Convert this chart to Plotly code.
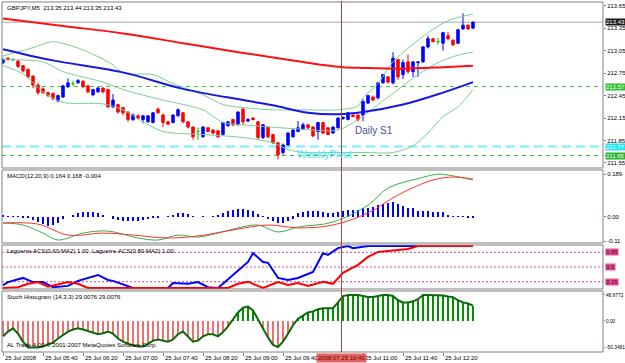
import plotly.graph_objects as go

# ---------------- data ----------------
bars = list(range(95))
opens = [212.89,212.95,212.93,212.91,212.85,212.80,212.71,212.59,212.54,212.49,
         212.48,212.38,212.43,212.57,212.61,212.62,212.64,212.58,212.46,212.50,
         212.55,212.53,212.30,212.33,212.29,212.23,212.13,212.18,212.13,212.10,
         212.09,212.27,212.19,212.10,212.09,212.18,212.22,212.10,212.03,211.97,
         211.90,212.02,211.99,211.98,211.93,212.05,212.13,212.06,212.27,212.11,
         212.15,212.10,211.89,212.03,211.93,211.82,211.69,211.79,211.90,211.97,
         212.00,212.06,212.03,211.97,212.09,212.02,211.95,212.02,212.14,212.13,
         212.19,212.19,212.19,212.35,212.43,212.42,212.62,212.70,212.62,212.93,
         212.73,212.90,212.77,212.89,212.90,213.10,213.21,213.17,213.15,213.25,
         213.19,213.15,213.34,213.39,213.35]
highs = [212.95,212.96,212.95,212.93,212.86,212.81,212.72,212.62,212.56,212.50,
         212.49,212.46,212.59,212.68,212.65,212.67,212.66,212.59,212.54,212.57,
         212.56,212.54,212.47,212.34,212.30,212.24,212.21,212.20,212.19,212.19,
         212.23,212.29,212.21,212.11,212.20,212.28,212.23,212.11,212.04,212.02,
         212.04,212.03,212.00,211.99,212.10,212.11,212.14,212.24,212.28,212.15,
         212.16,212.11,212.07,212.04,211.94,211.83,211.81,211.96,212.00,212.11,
         212.09,212.07,212.04,212.10,212.10,212.03,212.04,212.16,212.17,212.23,
         212.20,212.20,212.40,212.46,212.45,212.63,212.74,212.71,213.03,212.94,
         212.93,213.00,212.91,212.91,213.11,213.25,213.22,213.22,213.30,213.30,
         213.20,213.34,213.55,213.40,213.44]
lows = [212.87,212.92,212.91,212.82,212.76,212.68,212.55,212.46,212.47,212.43,
        212.39,212.36,212.42,212.55,212.58,212.61,212.55,212.48,212.44,212.49,
        212.48,212.28,212.28,212.21,212.19,212.10,212.11,212.13,212.08,212.09,
        212.08,212.21,212.03,212.05,212.08,212.17,212.08,212.01,211.86,211.86,
        211.89,211.96,211.93,211.89,211.92,212.03,212.04,212.05,212.06,212.10,
        212.12,211.87,211.87,211.88,211.80,211.60,211.66,211.78,211.89,211.96,
        211.99,212.00,211.90,211.86,211.94,211.92,211.94,212.01,212.13,212.12,
        212.16,212.10,212.11,212.34,212.38,212.40,212.61,212.61,212.60,212.66,
        212.67,212.74,212.70,212.70,212.89,213.08,213.16,213.13,213.05,213.19,
        213.11,213.14,213.33,213.33,213.35]
closes = [212.93,212.93,212.93,212.84,212.78,212.70,212.59,212.49,212.49,212.45,
          212.41,212.45,212.58,212.62,212.61,212.65,212.57,212.50,212.53,212.55,
          212.50,212.30,212.39,212.23,212.22,212.13,212.19,212.15,212.18,212.18,
          212.22,212.22,212.09,212.07,212.19,212.26,212.10,212.03,211.90,211.97,
          212.03,211.97,211.95,211.90,212.09,212.10,212.06,212.23,212.10,212.13,
          212.13,211.89,212.06,211.90,211.82,211.66,211.79,211.95,211.99,212.02,
          212.06,212.02,211.91,212.09,211.95,211.93,212.03,212.15,212.16,212.22,
          212.17,212.13,212.37,212.45,212.39,212.62,212.73,212.63,212.95,212.70,
          212.89,212.77,212.90,212.90,213.10,213.21,213.17,213.17,213.29,213.21,
          213.13,213.33,213.39,213.34,213.43]

# moving averages (bar index, price)
ma_slow_idx = [0, 12, 24, 36, 48, 56, 60, 64, 68, 72, 80, 88, 94]
ma_slow = [213.48, 213.38, 213.28, 213.15, 213.02, 212.94, 212.90, 212.86, 212.83, 212.82, 212.81, 212.83, 212.85]
ma_fast_idx = [0, 10, 24, 36, 48, 54, 61, 67, 72, 80, 88, 94]
ma_fast = [213.07, 212.92, 212.76, 212.54, 212.39, 212.32, 212.22, 212.20, 212.23, 212.33, 212.49, 212.63]

bb_up_idx = [0, 6, 10, 16, 22, 24, 30, 34, 40, 44, 48, 54, 60, 67, 71, 72, 75, 78, 85, 89, 94]
bb_up = [212.98, 213.09, 213.17, 213.06, 212.86, 212.75, 212.73, 212.61, 212.46, 212.33, 212.29, 212.26,
         212.26, 212.26, 212.31, 212.42, 212.61, 212.90, 213.29, 213.45, 213.54]
bb_mid_idx = [0, 8, 12, 20, 24, 32, 40, 44, 48, 58, 67, 71, 75, 79, 83, 87, 91, 94]
bb_mid = [212.93, 212.90, 212.77, 212.63, 212.53, 212.39, 212.26, 212.09, 212.06, 212.01, 211.99, 212.13,
          212.33, 212.53, 212.73, 212.89, 212.99, 213.03]
bb_lo_idx = [0, 4, 8, 12, 20, 24, 28, 32, 40, 48, 54, 57, 60, 66, 72, 78, 82, 85, 88, 91, 94]
bb_lo = [212.85, 212.74, 212.50, 212.36, 212.34, 212.26, 212.10, 211.97, 211.93, 211.89, 211.82, 211.73,
         211.69, 211.69, 211.69, 211.69, 211.78, 211.95, 212.17, 212.30, 212.53]

bid_level = 213.43
pivot_green = [212.57, 211.65]
pivot_cyan = 211.77
main_ticks = [213.65, 213.35, 213.05, 212.75, 212.45, 212.15, 211.85, 211.55]

# MACD
macd_hist = [0.004, 0.003, 0.002, 0.001, -0.002, -0.005,
             -0.015, -0.025, -0.034, -0.040, -0.037, -0.030,
             -0.008, 0.0,
             0.008, 0.018, 0.022, 0.022, 0.020, 0.018,
             0.005, 0.0,
             -0.008, -0.015, -0.018, -0.020, -0.020, -0.018, -0.015, -0.010,
             -0.005, -0.002, 0.0, 0.003, 0.008,
             0.015, 0.015, 0.010,
             0.002, 0.0, -0.001, 0.0, 0.002,
             0.008, 0.018, 0.026, 0.032, 0.034, 0.034, 0.032, 0.025, 0.012,
             0.002, -0.010, -0.020, -0.030, -0.028, -0.020, -0.008,
             0.015,
             0.022, 0.025, 0.025, 0.025, 0.022, 0.015, 0.018, 0.022, 0.025, 0.030,
             0.030, 0.030, 0.037, 0.040, 0.045, 0.052, 0.055, 0.062, 0.067, 0.055,
             0.049, 0.040, 0.037, 0.025, 0.025, 0.025, 0.022, 0.022, 0.019, 0.007,
             0.003, 0.002, 0.001, -0.002, -0.004]
macd_main_idx = [0, 4, 8, 11, 16, 21, 27, 31, 35, 39, 43, 47, 51, 55, 59, 66, 73, 77, 83, 87, 89, 94]
macd_main = [-0.028, -0.037, -0.073, -0.104, -0.073, -0.064, -0.095, -0.104, -0.082, -0.091, -0.073,
             -0.050, -0.037, -0.068, -0.046, -0.024, 0.052, 0.128, 0.170, 0.190, 0.186, 0.164]
macd_sig_idx = [0, 7, 13, 20, 26, 33, 39, 46, 53, 59, 66, 73, 79, 86, 90, 94]
macd_sig = [-0.028, -0.033, -0.082, -0.073, -0.082, -0.095, -0.086, -0.059, -0.037, -0.050, -0.037,
            0.017, 0.097, 0.164, 0.177, 0.168]
macd_ticks = [0.189, 0.0, -0.11]
macd_ticktext = ["0.189", "0.00", "-0.11"]

# Laguerre
lag1_idx = [0, 1, 4, 6, 8, 10, 13, 15, 19, 21, 22, 25, 26, 33, 34, 37, 39, 41, 43, 46, 49, 50, 52, 53,
            55, 57, 59, 62, 64, 65, 67, 69, 70, 73, 94]
lag1 = [0.07, 0.14, 0.24, 0.14, 0.14, 0.02, 0.05, 0.17, 0.31, 0.19, 0.17, 0.05, 0.0, 0.0, 0.12, 0.10,
        0.14, 0.02, 0.0, 0.31, 0.62, 0.83, 0.62, 0.60, 0.24, 0.19, 0.24, 0.38, 0.83, 0.79, 0.95, 1.0,
        0.95, 1.0, 1.0]
lag2_idx = [0, 3, 5, 7, 9, 11, 13, 15, 17, 45, 47, 49, 52, 55, 57, 59, 61, 64, 66, 68, 71, 73, 75, 77,
            81, 83, 94]
lag2 = [0.0, 0.02, 0.10, 0.14, 0.03, 0.08, 0.14, 0.10, 0.0, 0.0, 0.10, 0.15, 0.0, 0.14, 0.07, 0.12,
        0.05, 0.15, 0.10, 0.36, 0.55, 0.74, 0.86, 0.88, 0.93, 1.0, 1.0]
lag_levels = [0.85, 0.5, 0.15]
lag_level_text = ["0.85", "0.5", "0.15"]

# Stoch histogram
stoch = [-29, -20, -14, -24, -39, -50, -50, -50, -48, -45,
         -41, -33, -26, -20, -16, -14, -16, -19, -21, -25,
         -23, -20, -24, -33, -39, -43, -46, -48, -48, -43,
         -37, -35, -37, -39, -35, -25, -20, -29, -39, -37,
         -29, -25, -25, -29, -21, -10, 2, 16, 25, 27,
         20, 4, -14, -31, -45, -49, -39, -24, -8, 4,
         10, 16, 18, 22, 24, 24, 24, 35, 47, 49,
         48.9, 48.9, 47, 45, 45, 47, 48.9, 48.9, 47, 39,
         35, 35, 37, 41, 48.9, 48.9, 48.9, 48, 48, 46,
         45, 39, 35, 33, 29.0076]
stoch_ticks = [48.9773, 0.0, -50.3481]
stoch_ticktext = ["48.9773", "0.00", "-50.3481"]

# time axis labels (the 10:20 label sits under the crosshair box)
time_label_bars = [0, 8, 16, 24, 32, 40, 48, 56, 64, 72, 80, 88]
time_labels = ["25 Jul 2008", "25 Jul 05:40", "25 Jul 06:20", "25 Jul 07:00", "25 Jul 07:40",
               "25 Jul 08:20", "25 Jul 09:00", "25 Jul 09:40", "", "25 Jul 11:00",
               "25 Jul 11:40", "25 Jul 12:20"]
cross_bar = 67.7
cross_label = "2008.07.25 10:40"

# ---------------- figure ----------------
FONT = "Liberation Sans"
FS = 6
BB_COL = "#7ccc9a"

D_MAIN = [0.5242, 0.9972]
D_MACD = [0.3105, 0.5185]
D_LAG = [0.1795, 0.3048]
D_STO = [0.0, 0.1738]

fig = go.Figure()

for ix, vals in [(bb_up_idx, bb_up), (bb_mid_idx, bb_mid), (bb_lo_idx, bb_lo)]:
    fig.add_trace(go.Scatter(x=ix, y=vals, mode="lines",
                             line=dict(color=BB_COL, width=1, shape="spline", smoothing=0.8),
                             yaxis="y", hoverinfo="skip"))
fig.add_trace(go.Scatter(x=ma_slow_idx, y=ma_slow, mode="lines",
                         line=dict(color="#ff1010", width=2, shape="spline"), yaxis="y"))
fig.add_trace(go.Scatter(x=ma_fast_idx, y=ma_fast, mode="lines",
                         line=dict(color="#1818e0", width=2, shape="spline"), yaxis="y"))

nd = [i for i in bars if opens[i] != closes[i]]
dj = [i for i in bars if opens[i] == closes[i]]
fig.add_trace(go.Candlestick(
    x=[bars[i] for i in nd], open=[opens[i] for i in nd], high=[highs[i] for i in nd],
    low=[lows[i] for i in nd], close=[closes[i] for i in nd],
    increasing=dict(line=dict(color="#0000ff", width=1), fillcolor="#0000ff"),
    decreasing=dict(line=dict(color="#ff0000", width=1), fillcolor="#ff0000"),
    whiskerwidth=0, yaxis="y"))
fig.add_trace(go.Candlestick(
    x=[bars[i] for i in dj], open=[opens[i] for i in dj], high=[highs[i] for i in dj],
    low=[lows[i] for i in dj], close=[closes[i] for i in dj],
    increasing=dict(line=dict(color="#00c000", width=1), fillcolor="#00c000"),
    decreasing=dict(line=dict(color="#00c000", width=1), fillcolor="#00c000"),
    whiskerwidth=0, yaxis="y"))

fig.add_trace(go.Bar(x=bars, y=macd_hist, marker=dict(color="#0000ff", line=dict(width=0)), width=0.5, yaxis="y2"))
fig.add_trace(go.Scatter(x=macd_main_idx, y=macd_main, mode="lines",
                         line=dict(color="#3cb043", width=1, shape="spline"), yaxis="y2"))
fig.add_trace(go.Scatter(x=macd_sig_idx, y=macd_sig, mode="lines",
                         line=dict(color="#ff3030", width=1, shape="spline"), yaxis="y2"))

fig.add_trace(go.Scatter(x=lag1_idx, y=lag1, mode="lines", line=dict(color="#0000ff", width=2), yaxis="y3"))
fig.add_trace(go.Scatter(x=lag2_idx, y=lag2, mode="lines", line=dict(color="#ff0000", width=2), yaxis="y3"))

fig.add_trace(go.Bar(x=bars, y=stoch, width=0.25,
                     marker=dict(color=["#f07070" if v < 0 else "#009000" for v in stoch], line=dict(width=0)),
                     yaxis="y4"))
fig.add_trace(go.Scatter(x=bars, y=stoch, mode="lines", line=dict(color="#0a6a0a", width=2), yaxis="y4"))

shapes = []
for d in [D_MAIN, D_MACD, D_LAG, D_STO]:
    shapes.append(dict(type="rect", xref="paper", yref="paper", x0=0, x1=1, y0=d[0], y1=d[1],
                       line=dict(color="#808080", width=1), layer="above"))
shapes.append(dict(type="line", xref="paper", x0=0, x1=1, yref="y", y0=bid_level, y1=bid_level,
                   line=dict(color="#a8a8a8", width=1), layer="below"))
for lv in pivot_green:
    shapes.append(dict(type="line", xref="paper", x0=0, x1=1, yref="y", y0=lv, y1=lv,
                       line=dict(color="#3cbc3c", width=1, dash="4px,4px"), layer="below"))
shapes.append(dict(type="line", xref="paper", x0=0, x1=1, yref="y", y0=pivot_cyan, y1=pivot_cyan,
                   line=dict(color="#7aeefc", width=2, dash="9px,5px"), layer="below"))
for lv in lag_levels:
    shapes.append(dict(type="line", xref="paper", x0=0, x1=1, yref="y3", y0=lv, y1=lv,
                       line=dict(color="#d04c9c", width=1, dash="2px,2px"), layer="below"))
shapes.append(dict(type="line", xref="x", x0=cross_bar, x1=cross_bar, yref="paper", y0=0, y1=1,
                   line=dict(color="#a04848", width=1)))

ann = []
def label(text, y, yanchor="top"):
    ann.append(dict(text=text, xref="paper", x=0, xanchor="left", xshift=3, yref="paper", y=y, yanchor=yanchor,
                    showarrow=False, font=dict(family=FONT, size=FS, color="#000000")))

label("GBPJPY,M5  213.35 213.44 213.35 213.43", D_MAIN[1] - 0.003)
label("MACD(12,20,9) 0.164 0.168 -0.004", D_MACD[1] - 0.004)
label("Laguerre-ACS(0.60-MA2) 1.00  Laguerre-ACS(0.80-MA2) 1.00", D_LAG[1] - 0.004)
label("Stoch Histogram (14,3,3) 29.0076 29.0076", D_STO[1] - 0.004)
label("AL Trade 4.00 \u00a9 2001-2007 MetaQuotes Software Corp.", 0.006, yanchor="bottom")

for b, t in zip(time_label_bars, time_labels):
    if t:
        ann.append(dict(text=t, xref="x", x=b, xanchor="left", xshift=0, yref="paper", y=0, yanchor="top",
                        yshift=-1, showarrow=False, font=dict(family=FONT, size=FS, color="#000000")))
ann.append(dict(text=cross_label, xref="x", x=cross_bar, xanchor="center", yref="paper", y=0, yanchor="top",
                yshift=-1, showarrow=False, bgcolor="#e06464", borderpad=1,
                font=dict(family=FONT, size=FS, color="#7a0000")))

def box(text, y, yref, bg, fg="#ffffff"):
    ann.append(dict(text=text, xref="paper", x=1, xanchor="left", xshift=2, yref=yref, y=y, yanchor="middle",
                    showarrow=False, bgcolor=bg, borderpad=0, font=dict(family=FONT, size=FS, color=fg)))

box(f"{bid_level:.2f}", bid_level, "y", "#1a1a1a")
box(f"{pivot_green[0]:.2f}", pivot_green[0], "y", "#30c030")
box(f"{pivot_cyan:.2f}", pivot_cyan, "y", "#22e8f4")
box(f"{pivot_green[1]:.2f}", pivot_green[1], "y", "#28b428")
for lv, tx in zip(lag_levels, lag_level_text):
    box(tx, lv, "y3", "#e8508c", "#3a0050")

ann.append(dict(text="Daily S1", xref="x", x=70, xanchor="left", yref="y", y=211.98, yanchor="middle",
                showarrow=False, font=dict(family=FONT, size=10, color="#4c4c9c")))
ann.append(dict(text="WeeklyPivot", xref="x", x=58.4, xanchor="left", yref="y", y=211.67, yanchor="middle",
                showarrow=False, font=dict(family=FONT, size=10, color="#48e4f4")))

axis_common = dict(side="right", anchor="x", showgrid=False, zeroline=False, ticks="outside",
                   tickcolor="#808080", automargin=False, ticklabelstandoff=0, fixedrange=True)
tf = dict(family=FONT, size=FS, color="#000000")

fig.update_layout(
    width=625, height=363,
    margin=dict(l=2, r=22, t=1, b=11),
    paper_bgcolor="#ffffff", plot_bgcolor="#ffffff",
    showlegend=False, barmode="overlay", bargap=0,
    font=dict(family=FONT, size=FS),
    xaxis=dict(domain=[0, 1], range=[-0.2, 120.0], anchor="y4", showgrid=False, zeroline=False,
               tickvals=time_label_bars, ticktext=[""] * len(time_label_bars), ticks="outside", ticklen=3,
               tickcolor="#808080", rangeslider=dict(visible=False), showline=False, automargin=False),
    yaxis=dict(domain=D_MAIN, range=[211.483, 213.70], tickvals=main_ticks, ticklen=2,
               ticktext=[f"{v:.2f}" for v in main_ticks], tickfont=tf, **axis_common),
    yaxis2=dict(domain=D_MACD, range=[-0.1174, 0.2085], tickvals=macd_ticks, ticktext=macd_ticktext,
                ticklen=2, tickfont=tf, **axis_common),
    yaxis3=dict(domain=D_LAG, range=[-0.024, 1.024], tickvals=[], ticklen=2, tickfont=tf, **axis_common),
    yaxis4=dict(domain=D_STO, range=[-58.5, 56.5], tickvals=stoch_ticks, ticktext=stoch_ticktext,
                ticklen=1, tickfont=dict(family=FONT, size=4.8, color="#000000"), **axis_common),
    shapes=shapes, annotations=ann,
)

fig.write_html("out.html")
